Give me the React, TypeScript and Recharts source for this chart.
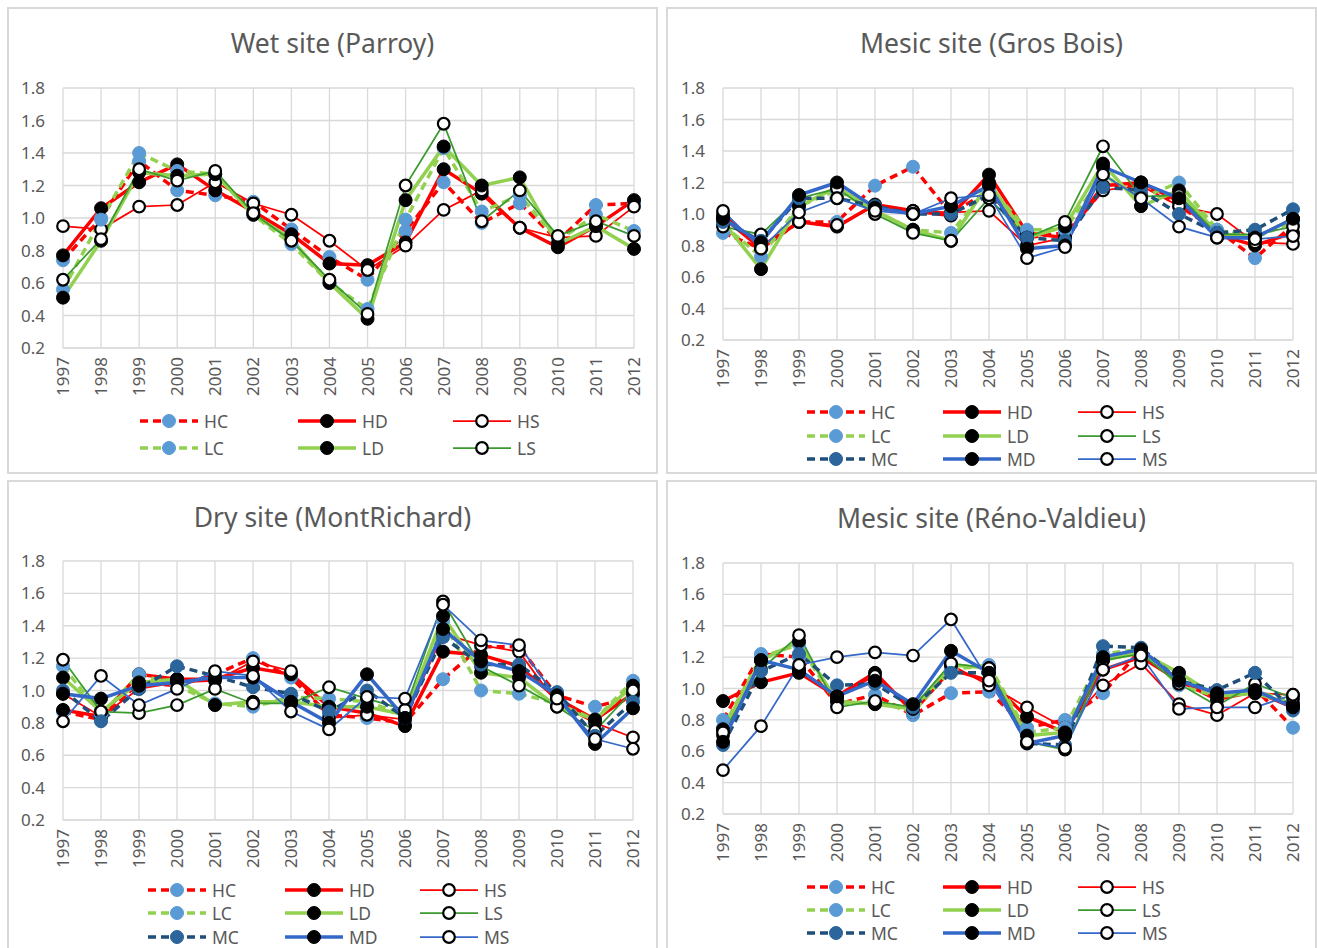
import React from 'react';
import { LineChart, Line, XAxis, YAxis, CartesianGrid } from 'recharts';

const years = ['1997','1998','1999','2000','2001','2002','2003','2004','2005','2006','2007','2008','2009','2010','2011','2012'];
const yTicks = [0.2, 0.4, 0.6, 0.8, 1.0, 1.2, 1.4, 1.6, 1.8];

// Wet site (Parroy)
const parroyHC = [0.74, 1.00, 1.35, 1.17, 1.14, 1.10, 0.93, 0.76, 0.62, 0.92, 1.22, 0.97, 1.09, 0.86, 1.08, 1.09];
const parroyHD = [0.77, 1.06, 1.22, 1.33, 1.17, 1.04, 0.90, 0.72, 0.71, 0.85, 1.30, 1.15, 0.94, 0.82, 0.95, 1.11];
const parroyHS = [0.95, 0.93, 1.07, 1.08, 1.22, 1.09, 1.02, 0.86, 0.68, 0.83, 1.05, 1.17, 0.94, 0.88, 0.89, 1.07];
const parroyLC = [0.56, 0.99, 1.40, 1.29, 1.27, 1.02, 0.84, 0.60, 0.44, 0.99, 1.43, 1.04, 1.14, 0.86, 1.02, 0.92];
const parroyLD = [0.51, 0.86, 1.28, 1.26, 1.27, 1.02, 0.87, 0.60, 0.38, 1.11, 1.44, 1.20, 1.25, 0.84, 0.95, 0.81];
const parroyLS = [0.62, 0.87, 1.30, 1.23, 1.29, 1.03, 0.86, 0.62, 0.41, 1.20, 1.58, 0.98, 1.17, 0.89, 0.98, 0.89];

// Mesic site (Gros Bois)
const grosHC = [0.88, 0.78, 0.95, 0.95, 1.18, 1.30, 1.00, 1.15, 0.85, 0.88, 1.15, 1.20, 1.05, 0.90, 0.72, 0.93];
const grosHD = [0.98, 0.78, 0.95, 0.92, 1.06, 1.02, 0.99, 1.25, 0.88, 0.85, 1.18, 1.20, 1.08, 0.87, 0.80, 0.88];
const grosHS = [1.00, 0.80, 0.95, 0.93, 1.05, 1.02, 1.01, 1.02, 0.80, 0.85, 1.15, 1.18, 1.05, 1.00, 0.82, 0.81];
const grosLC = [0.93, 0.73, 1.05, 1.15, 1.02, 0.90, 0.88, 1.18, 0.90, 0.90, 1.25, 1.10, 1.20, 0.90, 0.85, 0.95];
const grosLD = [0.95, 0.65, 1.05, 1.17, 1.02, 0.90, 0.83, 1.20, 0.85, 0.92, 1.32, 1.05, 1.15, 0.88, 0.85, 0.97];
const grosLS = [0.92, 0.87, 1.10, 1.16, 1.00, 0.88, 0.83, 1.10, 0.85, 0.95, 1.43, 1.11, 1.12, 0.87, 0.87, 0.92];
const grosMC = [0.95, 0.83, 1.10, 1.10, 1.05, 1.00, 1.00, 1.12, 0.85, 0.83, 1.17, 1.15, 1.00, 0.88, 0.90, 1.03];
const grosMD = [0.97, 0.82, 1.12, 1.20, 1.04, 1.00, 1.05, 1.18, 0.78, 0.80, 1.30, 1.20, 1.10, 0.85, 0.85, 0.97];
const grosMS = [1.02, 0.78, 1.01, 1.10, 1.02, 1.00, 1.10, 1.12, 0.72, 0.79, 1.25, 1.10, 0.92, 0.85, 0.84, 0.86];

// Dry site (MontRichard)
const montHC = [0.87, 0.82, 1.05, 1.03, 1.10, 1.20, 1.08, 0.85, 0.83, 0.80, 1.07, 1.27, 1.27, 0.97, 0.90, 0.96];
const montHD = [0.88, 0.84, 1.10, 1.07, 1.07, 1.14, 1.10, 0.90, 0.86, 0.78, 1.24, 1.22, 1.15, 0.95, 0.82, 0.98];
const montHS = [0.98, 0.84, 1.01, 1.05, 1.06, 1.18, 1.12, 0.83, 0.85, 0.82, 1.35, 1.28, 1.24, 0.92, 0.80, 0.71];
const montLC = [1.15, 0.85, 1.10, 1.03, 0.92, 0.90, 0.96, 0.95, 0.93, 0.85, 1.43, 1.00, 0.98, 0.92, 0.82, 1.06];
const montLD = [1.08, 0.87, 1.05, 1.07, 0.91, 0.93, 0.93, 0.90, 0.90, 0.85, 1.46, 1.11, 1.08, 0.90, 0.82, 1.03];
const montLS = [1.19, 0.87, 0.86, 0.91, 1.01, 0.92, 0.92, 1.02, 0.95, 0.88, 1.55, 1.15, 1.03, 0.90, 0.75, 1.00];
const montMC = [1.00, 0.81, 1.01, 1.15, 1.09, 1.02, 0.98, 0.87, 1.00, 0.83, 1.33, 1.16, 1.16, 0.99, 0.72, 0.93];
const montMD = [0.98, 0.95, 1.03, 1.05, 1.08, 1.08, 0.93, 0.80, 1.10, 0.83, 1.38, 1.18, 1.12, 0.97, 0.67, 0.89];
const montMS = [0.81, 1.09, 0.91, 1.01, 1.12, 1.09, 0.87, 0.76, 0.96, 0.95, 1.53, 1.31, 1.28, 0.95, 0.70, 0.64];

// Mesic site (Réno-Valdieu)
const renoHC = [0.80, 1.22, 1.20, 0.90, 0.96, 0.83, 0.97, 0.98, 0.75, 0.80, 0.97, 1.25, 1.05, 0.93, 1.00, 0.75];
const renoHD = [0.92, 1.04, 1.10, 0.95, 1.10, 0.85, 1.12, 1.05, 0.82, 0.72, 1.12, 1.20, 1.05, 0.93, 0.98, 0.88];
const renoHS = [0.70, 1.18, 1.12, 0.95, 1.08, 0.87, 1.15, 1.02, 0.88, 0.75, 1.02, 1.16, 0.90, 0.83, 0.97, 0.96];
const renoLC = [0.75, 1.20, 1.28, 0.90, 0.92, 0.85, 1.12, 1.15, 0.72, 0.75, 1.22, 1.25, 1.02, 0.95, 0.98, 0.92];
const renoLD = [0.74, 1.18, 1.30, 0.92, 0.90, 0.87, 1.15, 1.13, 0.70, 0.72, 1.18, 1.23, 1.10, 0.95, 0.97, 0.90];
const renoLS = [0.72, 1.12, 1.34, 0.88, 0.92, 0.88, 1.16, 1.13, 0.66, 0.61, 1.18, 1.22, 1.03, 0.89, 1.03, 0.94];
const renoMC = [0.64, 1.11, 1.22, 1.02, 1.03, 0.88, 1.10, 1.10, 0.65, 0.64, 1.27, 1.26, 1.05, 0.99, 1.10, 0.86];
const renoMD = [0.66, 1.18, 1.12, 0.95, 1.05, 0.90, 1.24, 1.10, 0.65, 0.70, 1.20, 1.25, 1.05, 0.97, 0.99, 0.88];
const renoMS = [0.48, 0.76, 1.15, 1.20, 1.23, 1.21, 1.44, 1.05, 0.66, 0.62, 1.12, 1.21, 0.87, 0.88, 0.88, 0.96];

type Style = { stroke: string; width: number; dash?: string; fill: string; mStroke: string; mWidth: number; r: number };
const DASH = '8 5';
const styles: Record<string, Style> = {
  HC: { stroke: '#FF0000', width: 3.5, dash: DASH, fill: '#5B9BD5', mStroke: '#5B9BD5', mWidth: 1, r: 6.5 },
  HD: { stroke: '#FF0000', width: 3.5, fill: '#000000', mStroke: '#000000', mWidth: 1, r: 6.5 },
  HS: { stroke: '#FF0000', width: 1.75, fill: '#FFFFFF', mStroke: '#000000', mWidth: 2.2, r: 5.8 },
  LC: { stroke: '#92D050', width: 3.5, dash: DASH, fill: '#5B9BD5', mStroke: '#5B9BD5', mWidth: 1, r: 6.5 },
  LD: { stroke: '#92D050', width: 3.5, fill: '#000000', mStroke: '#000000', mWidth: 1, r: 6.5 },
  LS: { stroke: '#3A9A2E', width: 1.75, fill: '#FFFFFF', mStroke: '#000000', mWidth: 2.2, r: 5.8 },
  MC: { stroke: '#1F4E79', width: 3.5, dash: DASH, fill: '#2B659C', mStroke: '#2B659C', mWidth: 1, r: 6.5 },
  MD: { stroke: '#3468C8', width: 3.5, fill: '#000000', mStroke: '#000000', mWidth: 1, r: 6.5 },
  MS: { stroke: '#3468C8', width: 1.75, fill: '#FFFFFF', mStroke: '#000000', mWidth: 2.2, r: 5.8 },
};

type PanelDef = {
  title: string;
  left: number; top: number; h: number;
  titleY: number;
  plotLeft: number; plotRight: number; plotTop: number; plotBottom: number;
  series: Record<string, number[]>;
  legendCols: number[];
  legendRows: number[];
};

const panels: PanelDef[] = [
  {
    title: 'Wet site (Parroy)', left: 7, top: 7, h: 467, titleY: 43,
    plotLeft: 63, plotRight: 634, plotTop: 88, plotBottom: 348,
    series: { HC: parroyHC, HD: parroyHD, HS: parroyHS, LC: parroyLC, LD: parroyLD, LS: parroyLS },
    legendCols: [140, 298, 453], legendRows: [421, 448],
  },
  {
    title: 'Mesic site (Gros Bois)', left: 666, top: 7, h: 467, titleY: 43,
    plotLeft: 723, plotRight: 1293, plotTop: 88, plotBottom: 340,
    series: { HC: grosHC, HD: grosHD, HS: grosHS, LC: grosLC, LD: grosLD, LS: grosLS, MC: grosMC, MD: grosMD, MS: grosMS },
    legendCols: [807, 943, 1078], legendRows: [412, 436, 459],
  },
  {
    title: 'Dry site (MontRichard)', left: 7, top: 480, h: 475, titleY: 517,
    plotLeft: 63, plotRight: 633, plotTop: 561, plotBottom: 820,
    series: { HC: montHC, HD: montHD, HS: montHS, LC: montLC, LD: montLD, LS: montLS, MC: montMC, MD: montMD, MS: montMS },
    legendCols: [148, 285, 420], legendRows: [890, 913, 937],
  },
  {
    title: 'Mesic site (Réno-Valdieu)', left: 666, top: 480, h: 475, titleY: 518,
    plotLeft: 723, plotRight: 1293, plotTop: 563, plotBottom: 814,
    series: { HC: renoHC, HD: renoHD, HS: renoHS, LC: renoLC, LD: renoLD, LS: renoLS, MC: renoMC, MD: renoMD, MS: renoMS },
    legendCols: [807, 943, 1078], legendRows: [887, 910, 933],
  },
];

const FONT = '"Noto Sans", "Open Sans", sans-serif';
const TEXT = '#595959';
const PANEL_W = 651;
const YAXIS_W = 40;
const XAXIS_H = 60;

const XTick = (props: any) => {
  const { x, y, payload } = props;
  return (
    <text x={x} y={y + 1} transform={`rotate(-90, ${x}, ${y + 1})`} textAnchor="end" dy="0.36em"
      fill={TEXT} fontSize={17} fontFamily={FONT}>{payload.value}</text>
  );
};

const LegendIcon = ({ s }: { s: Style }) => (
  <svg width={58} height={16} style={{ display: 'block' }}>
    <line x1={0} y1={8} x2={58} y2={8} stroke={s.stroke} strokeWidth={s.width} strokeDasharray={s.dash} />
    <circle cx={29} cy={8} r={s.r} fill={s.fill} stroke={s.mStroke} strokeWidth={s.mWidth} />
  </svg>
);

const Panel = ({ p }: { p: PanelDef }) => {
  const codes = Object.keys(p.series);
  const data = years.map((yr, i) => {
    const row: any = { year: yr };
    codes.forEach((c) => { row[c] = p.series[c][i]; });
    return row;
  });
  const chartTop = p.top + 50;
  const chartH = p.plotBottom - chartTop + XAXIS_H;
  const margin = {
    top: p.plotTop - chartTop,
    left: p.plotLeft - p.left - YAXIS_W,
    right: p.left + PANEL_W - p.plotRight,
    bottom: 0,
  };
  return (
    <>
      <div style={{ position: 'absolute', left: p.left, top: p.top, width: PANEL_W, height: p.h,
        border: '2px solid #D9D9D9', boxSizing: 'border-box', background: '#fff' }} />
      <div style={{ position: 'absolute', left: p.left, top: p.titleY - 18, width: PANEL_W, textAlign: 'center',
        fontFamily: FONT, fontSize: 26.5, lineHeight: '36px', color: TEXT }}>{p.title}</div>
      <div style={{ position: 'absolute', left: p.left, top: chartTop }}>
        <LineChart width={PANEL_W} height={chartH} data={data} margin={margin}>
          <CartesianGrid stroke="#D9D9D9" strokeWidth={1.3} vertical={true} horizontal={true} />
          <XAxis dataKey="year" type="category" height={XAXIS_H} tickLine={false} axisLine={{ stroke: '#D9D9D9' }}
            interval={0} tick={<XTick />} />
          <YAxis type="number" domain={[0.2, 1.8]} ticks={yTicks} width={YAXIS_W} tickLine={false} axisLine={false}
            tickMargin={12} tickFormatter={(v: number) => v.toFixed(1)} interval={0}
            tick={{ fill: TEXT, fontSize: 17, fontFamily: FONT }} />
          {codes.map((c) => {
            const s = styles[c];
            return (
              <Line key={c} dataKey={c} type="linear" stroke={s.stroke} strokeWidth={s.width}
                strokeDasharray={s.dash} isAnimationActive={false} activeDot={false}
                dot={{ r: s.r, fill: s.fill, stroke: s.mStroke, strokeWidth: s.mWidth, strokeDasharray: '' }} />
            );
          })}
        </LineChart>
      </div>
      {codes.map((c, i) => {
        const col = i % 3;
        const row = Math.floor(i / 3);
        return (
          <div key={'lg' + c} style={{ position: 'absolute', left: p.legendCols[col], top: p.legendRows[row] - 12,
            height: 24, display: 'flex', alignItems: 'center', fontFamily: FONT, fontSize: 17.5, color: TEXT }}>
            <LegendIcon s={styles[c]} />
            <span style={{ marginLeft: 6 }}>{c}</span>
          </div>
        );
      })}
    </>
  );
};

export default function App() {
  return (
    <div style={{ position: 'absolute', left: 0, top: 0, width: 1317, height: 948, overflow: 'hidden', background: '#fff' }}>
      {panels.map((p) => <Panel key={p.title} p={p} />)}
    </div>
  );
}
